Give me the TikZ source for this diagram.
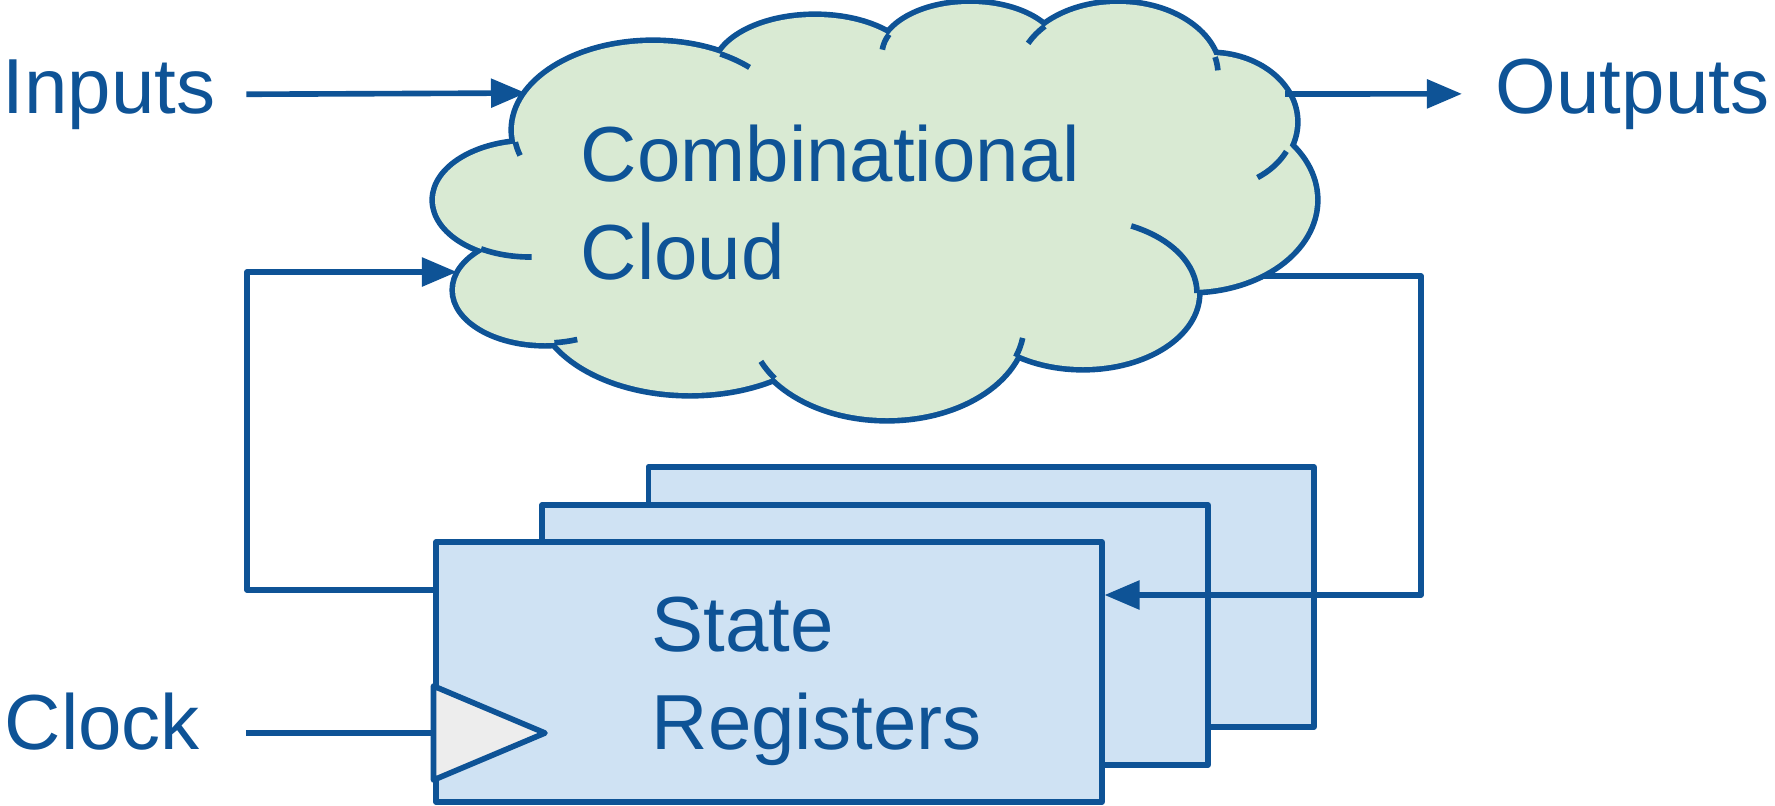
\documentclass[tikz,border=0pt]{standalone}
\usepackage{fontspec}
\setmainfont{Liberation Sans}
\usetikzlibrary{arrows.meta}
\definecolor{lineblue}{HTML}{0E5396}
\definecolor{cloudgreen}{HTML}{D9EAD3}
\definecolor{regblue}{HTML}{CFE2F3}
\definecolor{clkgray}{HTML}{EDEDED}

\begin{document}
\begin{tikzpicture}[x=0.01cm, y=-0.01cm, line width=1.6pt, lineblue,
  lbl/.style = {text=lineblue, inner sep=0pt, align=left, font=\fontsize{22.2}{27.6}\selectfont},
  reg/.style = {draw=lineblue, fill=regblue, minimum width=6.65cm, minimum height=2.6cm, inner sep=0pt, line join=round},
  wire/.style = {draw=lineblue, line join=round},
  arr/.style = {wire, -{Triangle[length=3.5mm, width=2.8mm]}}]
\useasboundingbox (0,0) rectangle (1775,805);

% cloud: a double width outline under the fill leaves only the outer edge
\foreach \cx/\cy/\rx/\ry in {653/130/139/87, 815/72/100/55, 970/54/88/50, 1118/74/100/70,
    1210/122/85/67, 1190/200/125/90, 1083/293/114/74, 887/325/137/93, 690/300/152/93,
    545/290/90/53, 530/200/95/57}
  \draw[line width=3.2pt] (\cx,\cy) ellipse [x radius=\rx, y radius=\ry];
\foreach \cx/\cy/\rx/\ry in {653/130/139/87, 815/72/100/55, 970/54/88/50, 1118/74/100/70,
    1210/122/85/67, 1190/200/125/90, 1083/293/114/74, 887/325/137/93, 690/300/152/93,
    545/290/90/53, 530/200/95/57}
  \fill[cloudgreen] (\cx,\cy) ellipse [x radius=\rx, y radius=\ry];
\fill[cloudgreen] (653,130) -- (815,72) -- (970,54) -- (1118,74) -- (1210,122) -- (1190,200)
  -- (1083,293) -- (887,325) -- (690,300) -- (545,290) -- (530,200) -- cycle;
% inner ends of the puffs
\foreach \cx/\cy/\rx/\ry/\a/\b in {653/130/139/87/-61/-46, 653/130/139/87/172/163,
    970/54/88/50/203/185, 1118/74/100/70/223/206, 1118/74/100/70/-14/-3,
    1210/122/85/67/26/56, 1083/293/114/74/0/-65, 887/325/137/93/20/8,
    887/325/137/93/145/157, 545/290/90/53/84/69, 530/200/95/57/121/89}
  \draw ({\cx+\rx*cos(\a)},{\cy+\ry*sin(\a)}) arc [start angle=\a, end angle=\b, x radius=\rx, y radius=\ry];

\coordinate (cin) at (526,93);
\coordinate (cout) at (1285,94);
\coordinate (cfbin) at (457,272);
\coordinate (cfbout) at (1263,276);
\node[lbl, anchor=base west] (comb) at (578,279) {Combinational\\Cloud};

% registers
\node[reg] (regback) at (981,597) {};
\node[reg] (regmid) at (875,635) {};
\node[reg] (regfront) at (769,672) {};
\node[lbl, anchor=base west] (state) at (649,749) {State\\Registers};
\coordinate (clk) at (regfront.west |- 0,733);
\coordinate (clktop) at (regfront.west |- 0,686);
\coordinate (clkbot) at (regfront.west |- 0,780);
\coordinate (clktip) at (545,733);
\draw[wire, fill=clkgray] (clktop) -- (clktip) -- (clkbot) -- cycle;

\node[lbl, anchor=base west] (inp) at (0,113) {Inputs};
\node[lbl, anchor=base west] (outp) at (1493,113) {Outputs};
\node[lbl, anchor=base west] (clock) at (2,749) {Clock};

\draw[arr] ([xshift=0.28cm]inp.east) -- (cin);
\draw[arr] (cout) -- ([xshift=-0.31cm]outp.west);
\draw[wire] ([shift={(43,-16)}]clock.base east) -- (clk);
\draw[arr] (regfront.west |- 0,590) -- (247,590) -- (247,272) -- (cfbin);
\draw[arr] (cfbout) -- (1421,276) -- (1421,595) -- (regfront.east |- 0,595);
\end{tikzpicture}
\end{document}
